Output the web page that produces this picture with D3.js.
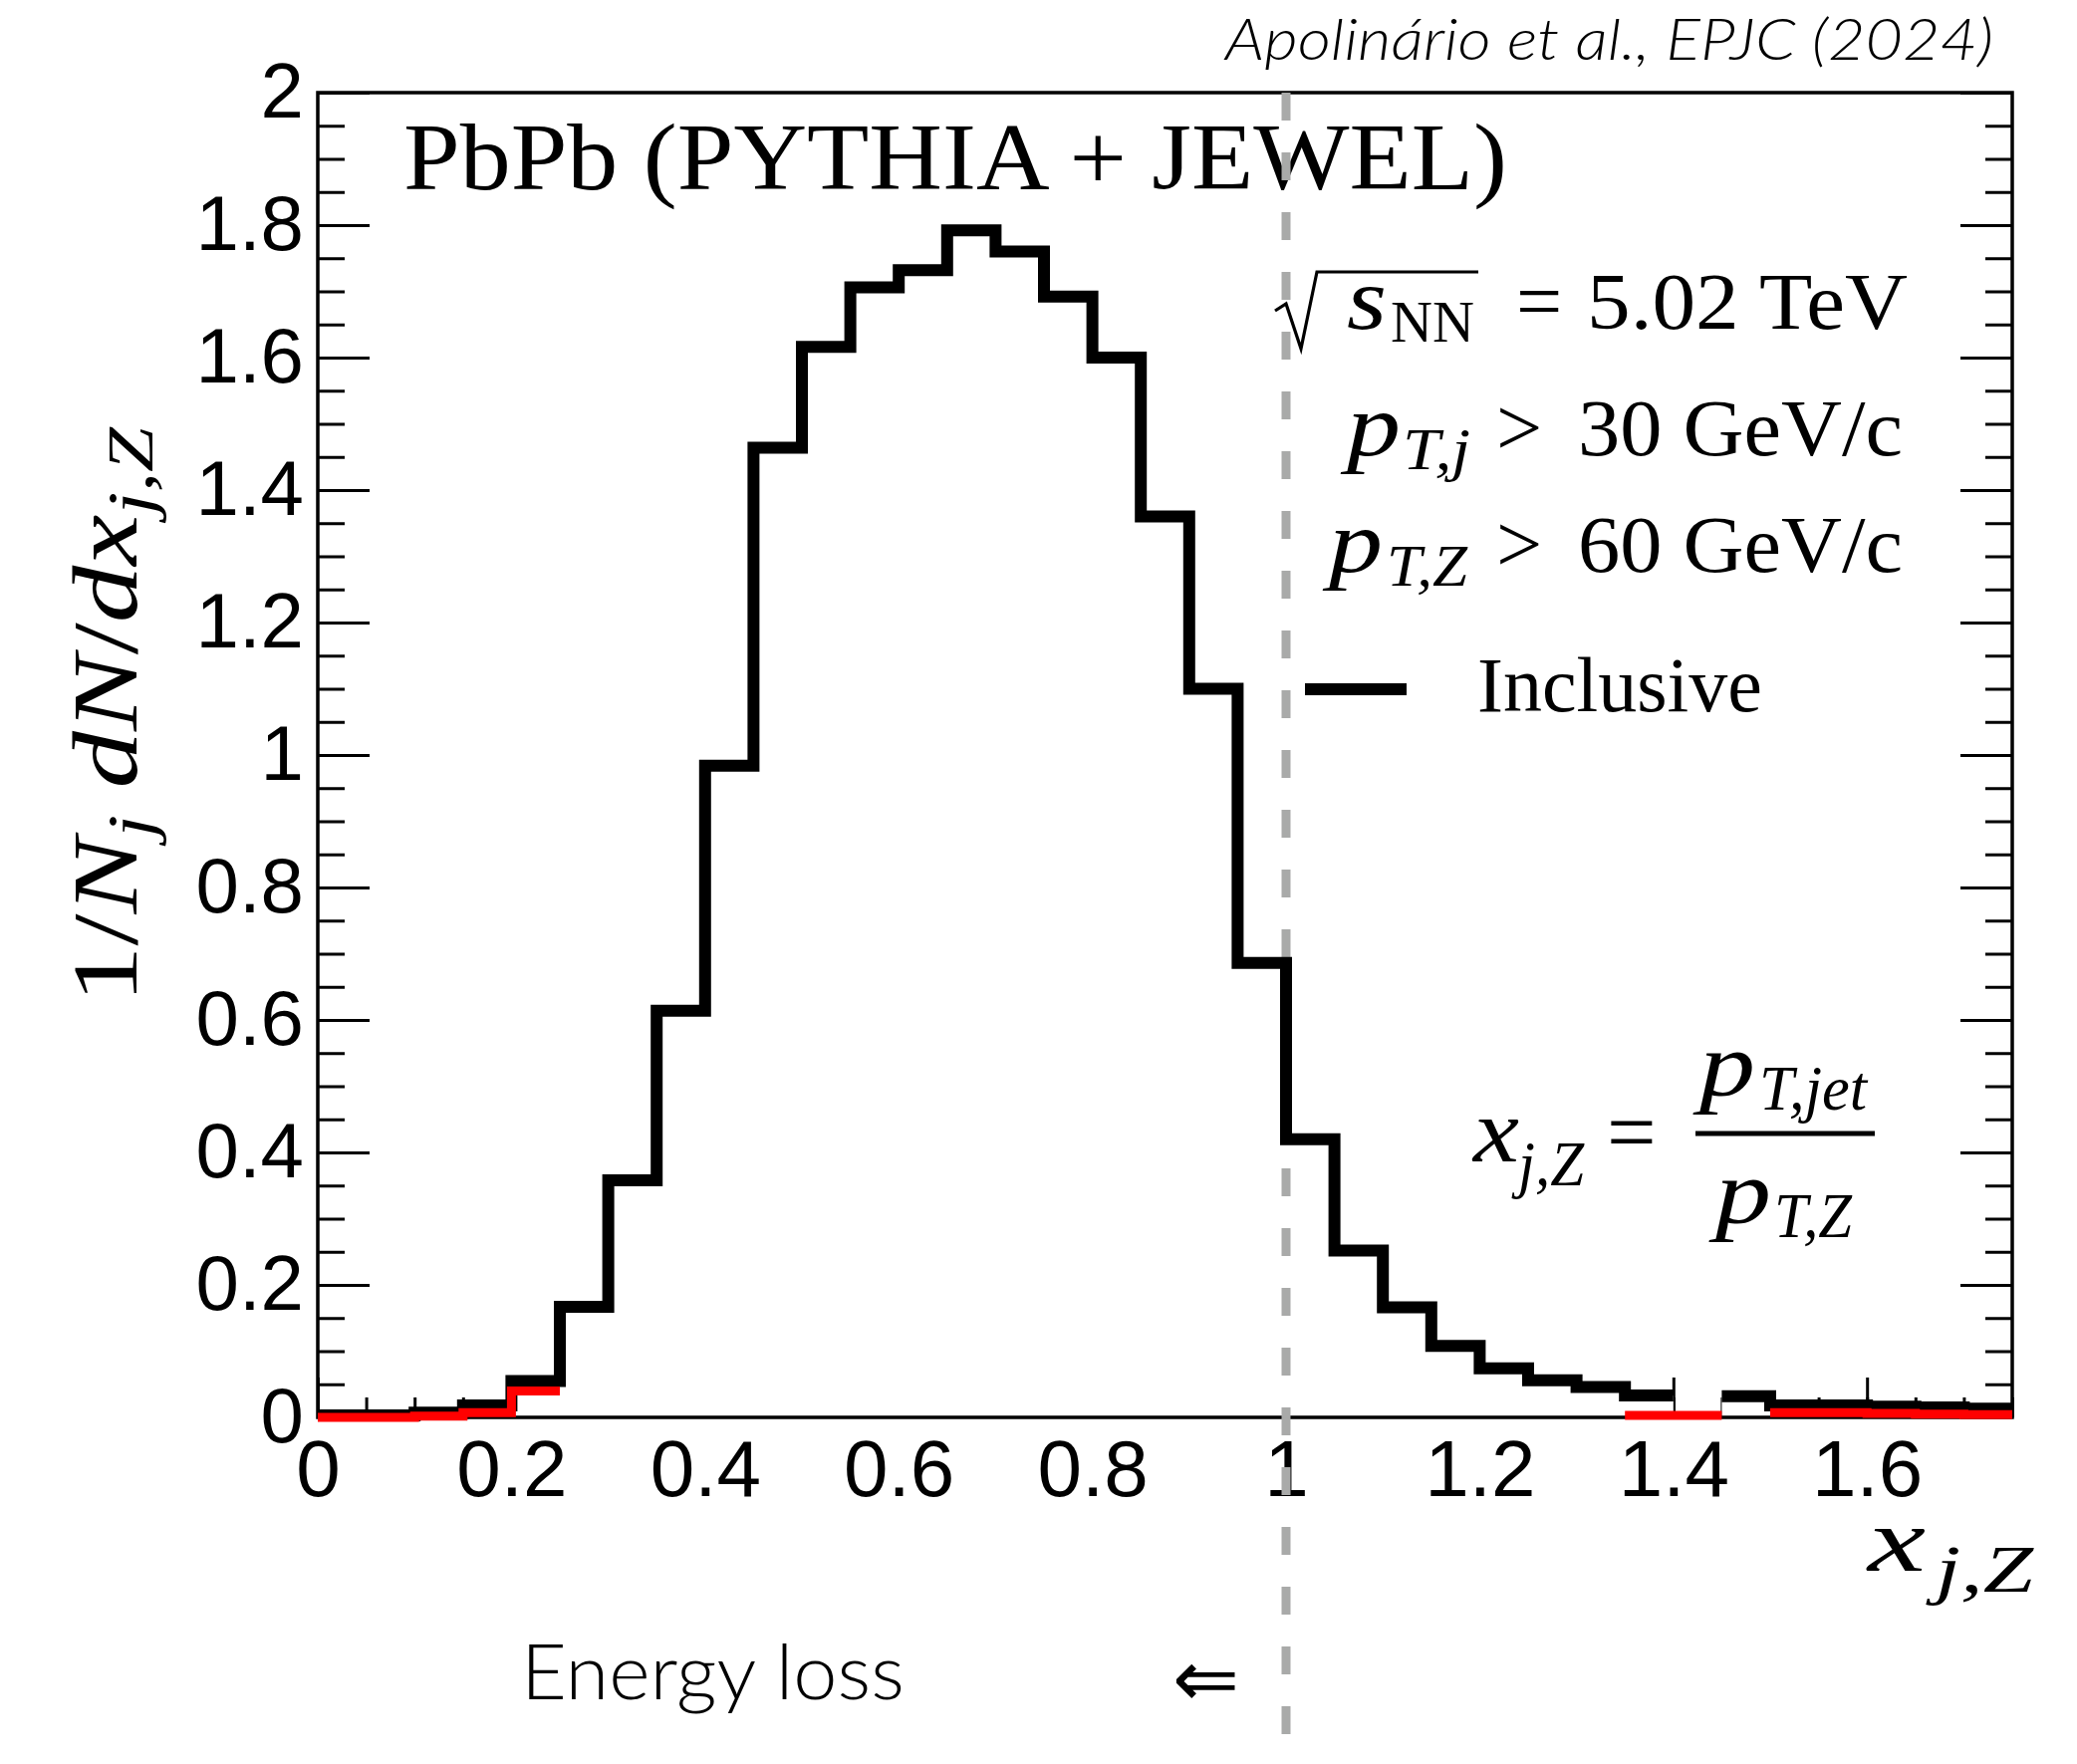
<!DOCTYPE html>
<html>
<head>
<meta charset="utf-8">
<script src="https://cdn.jsdelivr.net/npm/d3@7"></script>
<style>
  html, body { margin: 0; padding: 0; background: #ffffff; }
  svg { display: block; }
</style>
</head>
<body>
<svg id="chart" width="2085" height="1771"></svg>
<script>
// ---- data -------------------------------------------------------------
// bin edges of the x_jZ histogram (35 bins of width 0.05)
const binEdges = [0.00, 0.05, 0.10, 0.15, 0.20, 0.25, 0.30, 0.35, 0.40, 0.45,
                  0.50, 0.55, 0.60, 0.65, 0.70, 0.75, 0.80, 0.85, 0.90, 0.95,
                  1.00, 1.05, 1.10, 1.15, 1.20, 1.25, 1.30, 1.35, 1.40, 1.45,
                  1.50, 1.55, 1.60, 1.65, 1.70, 1.75];

// inclusive jets, 1/N_j dN/dx_jZ per bin (null = bin not drawn)
const inclusive = [0.003, 0.003, 0.007, 0.018, 0.055, 0.167, 0.358, 0.614, 0.984, 1.464,
                   1.616, 1.706, 1.732, 1.792, 1.760, 1.692, 1.600, 1.360, 1.100, 0.686,
                   0.420, 0.252, 0.166, 0.108, 0.074, 0.056, 0.046, 0.033, null, 0.032,
                   0.018, 0.018, 0.016, 0.015, 0.013];

// red comparison histogram, only the visible stretches
const comparison = [0.000, 0.000, 0.002, 0.007, 0.040, null, null, null, null, null,
                    null, null, null, null, null, null, null, null, null, null,
                    null, null, null, null, null, null, null, 0.003, 0.003, null,
                    0.007, 0.007, 0.006, 0.005, 0.004];

const xMajorTicks = [0, 0.2, 0.4, 0.6, 0.8, 1.0, 1.2, 1.4, 1.6];
const xTickLabels = ["0", "0.2", "0.4", "0.6", "0.8", "1", "1.2", "1.4", "1.6"];
const xMinorTicks = binEdges;

const yMajorTicks = [0, 0.2, 0.4, 0.6, 0.8, 1.0, 1.2, 1.4, 1.6, 1.8, 2.0];
const yTickLabels = ["0", "0.2", "0.4", "0.6", "0.8", "1", "1.2", "1.4", "1.6", "1.8", "2"];
const yMinorTicks = [0, 0.05, 0.1, 0.15, 0.2, 0.25, 0.3, 0.35, 0.4, 0.45, 0.5, 0.55, 0.6,
                     0.65, 0.7, 0.75, 0.8, 0.85, 0.9, 0.95, 1.0, 1.05, 1.1, 1.15, 1.2,
                     1.25, 1.3, 1.35, 1.4, 1.45, 1.5, 1.55, 1.6, 1.65, 1.7, 1.75, 1.8,
                     1.85, 1.9, 1.95, 2.0];

const balancePoint = 1.0;   // x_jZ = 1, jet and Z balanced

// ---- layout -----------------------------------------------------------
const svg = d3.select("#chart");
const frame = { left: 319, right: 2020, top: 93, bottom: 1423 };

const x = d3.scaleLinear().domain([0, 1.75]).range([frame.left, frame.right]);
const y = d3.scaleLinear().domain([0, 2]).range([frame.bottom, frame.top]);

const SANS = "'Liberation Sans', Arial, Helvetica, sans-serif";
const SERIF = "'Liberation Serif', 'Times New Roman', serif";
const LIGHT = "Lato, 'Open Sans', sans-serif";

svg.append("rect").attr("width", 2085).attr("height", 1771).attr("fill", "#ffffff");

// ---- axes (ticks point into the frame) --------------------------------
function styleAxis(g, fontSize) {
  g.attr("font-size", null).attr("font-family", null);
  g.select(".domain").remove();
  g.selectAll(".tick line").attr("stroke", "#000").attr("stroke-width", 3);
  g.selectAll(".tick text")
    .attr("font-family", SANS)
    .attr("font-size", fontSize)
    .attr("fill", "#000");
}

svg.append("g")
  .attr("transform", `translate(0,${frame.bottom})`)
  .call(d3.axisBottom(x).tickValues(xMinorTicks).tickSize(-20).tickFormat(""))
  .call(g => styleAxis(g, 0));

svg.append("g")
  .attr("transform", `translate(0,${frame.bottom})`)
  .call(d3.axisBottom(x).tickValues(xMajorTicks).tickSize(-40).tickPadding(22)
          .tickFormat((d, i) => xTickLabels[i]))
  .call(g => styleAxis(g, 80));

svg.append("g")
  .attr("transform", `translate(${frame.left},0)`)
  .call(d3.axisLeft(y).tickValues(yMinorTicks).tickSize(-27).tickFormat(""))
  .call(g => styleAxis(g, 0));

svg.append("g")
  .attr("transform", `translate(${frame.left},0)`)
  .call(d3.axisLeft(y).tickValues(yMajorTicks).tickSize(-52).tickPadding(14)
          .tickFormat((d, i) => yTickLabels[i]))
  .call(g => styleAxis(g, 78));

svg.append("g")
  .attr("transform", `translate(${frame.right},0)`)
  .call(d3.axisRight(y).tickValues(yMinorTicks).tickSize(-27).tickFormat(""))
  .call(g => styleAxis(g, 0));

svg.append("g")
  .attr("transform", `translate(${frame.right},0)`)
  .call(d3.axisRight(y).tickValues(yMajorTicks).tickSize(-52).tickFormat(""))
  .call(g => styleAxis(g, 0));

// ---- histogram helpers -----------------------------------------------
function stepSegments(values) {
  const segs = [];
  let cur = null;
  values.forEach((v, i) => {
    if (v === null) { cur = null; return; }
    if (!cur) { cur = []; segs.push(cur); }
    cur.push([binEdges[i], v], [binEdges[i + 1], v]);
  });
  return segs;
}
const stepLine = d3.line().x(d => x(d[0])).y(d => y(d[1]));
const stepArea = d3.area().x(d => x(d[0])).y0(y(0)).y1(d => y(d[1]));

const inclusiveSegs = stepSegments(inclusive);
const comparisonSegs = stepSegments(comparison);

// white body of the inclusive histogram
svg.append("g").selectAll("path")
  .data(inclusiveSegs).join("path")
  .attr("d", stepArea)
  .attr("fill", "#ffffff");

// frame
svg.append("rect")
  .attr("x", frame.left).attr("y", frame.top)
  .attr("width", frame.right - frame.left).attr("height", frame.bottom - frame.top)
  .attr("fill", "none").attr("stroke", "#000").attr("stroke-width", 3.5);

// ---- text helpers ----------------------------------------------------
function label(x0, y0, str, opt = {}) {
  const t = svg.append("text")
    .attr("x", x0).attr("y", y0)
    .attr("font-family", opt.family || SERIF)
    .attr("font-size", opt.size || 80)
    .attr("font-style", opt.italic ? "italic" : "normal")
    .attr("font-weight", opt.weight || "normal")
    .attr("text-anchor", opt.anchor || "start")
    .attr("fill", "#000")
    .text(str);
  if (opt.length) t.attr("textLength", opt.length).attr("lengthAdjust", "spacingAndGlyphs");
  if (opt.spacing) t.attr("letter-spacing", opt.spacing);
  return t;
}

// top-right reference
label(1230, 60, "Apolinário et al., EPJC (2024)",
      { family: LIGHT, size: 58, italic: true, weight: 300, length: 771 });

// system label
label(405, 190, "PbPb (PYTHIA + JEWEL)", { size: 95, length: 1108 });

// collision energy with radical
svg.append("path")
  .attr("d", "M1280,312 L1291,305 L1306,350 L1322,273 H1484")
  .attr("fill", "none").attr("stroke", "#000").attr("stroke-width", 3.2)
  .attr("stroke-linejoin", "miter");
label(1352, 330, "s", { size: 88, italic: true, length: 40 });
label(1396, 343, "NN", { size: 60, length: 84 });
label(1522, 330, "=", { size: 82 });
label(1915, 330, "5.02 TeV", { size: 80, anchor: "end", length: 322 });

// kinematic cuts
label(1352, 457, "p", { size: 88, italic: true, length: 54 });
label(1408, 471, "T,j", { size: 60, italic: true, length: 68 });
label(1502, 457, ">", { size: 82 });
label(1910, 457, "30 GeV/c", { size: 80, anchor: "end", length: 326 });

label(1334, 574, "p", { size: 88, italic: true, length: 54 });
label(1392, 588, "T,Z", { size: 60, italic: true, length: 81 });
label(1502, 574, ">", { size: 82 });
label(1910, 574, "60 GeV/c", { size: 80, anchor: "end", length: 326 });

// legend
svg.append("line")
  .attr("x1", 1310).attr("x2", 1412).attr("y1", 692).attr("y2", 692)
  .attr("stroke", "#000").attr("stroke-width", 12);
label(1483, 714, "Inclusive", { size: 78 });

// definition of x_jZ
label(1479, 1166, "x", { size: 92, italic: true, length: 46 });
label(1524, 1190, "j,Z", { size: 64, italic: true, length: 66 });
label(1613, 1166, "=", { size: 88 });
svg.append("line")
  .attr("x1", 1702).attr("x2", 1882).attr("y1", 1138).attr("y2", 1138)
  .attr("stroke", "#000").attr("stroke-width", 5);
label(1706, 1100, "p", { size: 92, italic: true, length: 56 });
label(1766, 1114, "T,jet", { size: 64, italic: true, length: 108 });
label(1722, 1228, "p", { size: 92, italic: true, length: 56 });
label(1781, 1242, "T,Z", { size: 64, italic: true, length: 78 });

// x axis title
label(1875, 1577, "x", { size: 90, italic: true, length: 58 });
label(1943, 1598, "j,Z", { size: 68, italic: true, length: 98 });

// y axis title (rotated)
const yt = svg.append("text")
  .attr("transform", "translate(137,1007) rotate(-90)")
  .attr("font-family", SERIF)
  .attr("font-size", 94)
  .attr("fill", "#000")
  .attr("textLength", 578)
  .attr("lengthAdjust", "spacingAndGlyphs");
yt.append("tspan").text("1/");
yt.append("tspan").attr("font-style", "italic").text("N");
yt.append("tspan").attr("font-style", "italic").attr("font-size", 66).attr("dy", 16).text("j");
yt.append("tspan").attr("font-style", "italic").attr("dy", -16).attr("dx", 22).text("dN");
yt.append("tspan").text("/");
yt.append("tspan").attr("font-style", "italic").text("dx");
yt.append("tspan").attr("font-style", "italic").attr("font-size", 66).attr("dy", 16).text("j,Z");

// energy-loss annotation below the axis
label(523, 1706, "Energy loss", { family: LIGHT, size: 76, weight: 300, length: 385 });
label(1177, 1713, "\u21D0", { family: "'DejaVu Sans', sans-serif", size: 80 });

// dashed marker at x_jZ = 1
svg.append("line")
  .attr("x1", x(balancePoint)).attr("x2", x(balancePoint))
  .attr("y1", y(2)).attr("y2", 1771)
  .attr("stroke", "#a9aaa9").attr("stroke-width", 9)
  .attr("stroke-dasharray", "28 32");

// ---- histogram outlines ------------------------------------------------
svg.append("g").selectAll("path")
  .data(inclusiveSegs).join("path")
  .attr("d", stepLine)
  .attr("fill", "none")
  .attr("stroke", "#000")
  .attr("stroke-width", 12)
  .attr("stroke-linejoin", "miter")
  .attr("stroke-linecap", "butt");

svg.append("g").selectAll("path")
  .data(comparisonSegs).join("path")
  .attr("d", stepLine)
  .attr("fill", "none")
  .attr("stroke", "#ff0000")
  .attr("stroke-width", 9)
  .attr("stroke-linejoin", "miter")
  .attr("stroke-linecap", "butt");
</script>
</body>
</html>
